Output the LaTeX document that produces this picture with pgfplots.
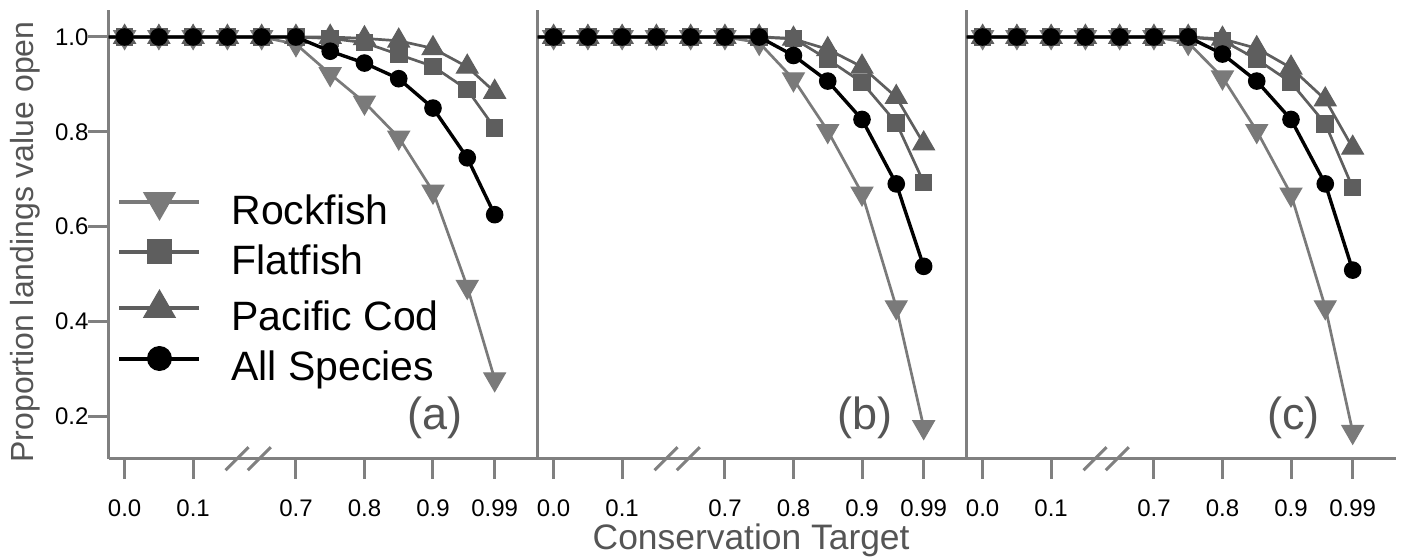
\documentclass[border=0pt]{standalone}
\usepackage{pgfplots}
\pgfplotsset{compat=1.18}
\usepackage{fontspec}
\setmainfont{Liberation Sans}

\definecolor{rockc}{HTML}{7A7A7A}
\definecolor{flatc}{HTML}{5E5E5E}
\definecolor{codc}{HTML}{5E5E5E}
\definecolor{axc}{HTML}{808080}
\definecolor{labc}{HTML}{555555}

\pgfplotsset{
  panel/.style={
    scale only axis, width=214.5pt, height=224.35pt,
    anchor=south west,
    xmin=-0.47, xmax=12.05, ymin=0.11, ymax=1.057,
    axis x line=bottom, axis y line=left,
    axis line style={axc, line width=1.5pt, -},
    xtick={0,2,5,7,9,10.8},
    xticklabels={0.0,0.1,0.7,0.8,0.9,0.99},
    tick align=outside,
    major tick length=10pt,
    every tick/.style={axc, line width=1.5pt},
    tick label style={font=\fontsize{12}{14}\selectfont, black},
    xticklabel style={yshift=-7pt},
    yticklabel style={xshift=3.5pt},
    clip mode=individual,
    legend image code/.code={
      \draw[##1, line width=2pt, mark indices={2},
        every mark/.append style={scale=1.45}]
        plot coordinates {(0pt,4.5pt) (20pt,4.5pt) (40pt,4.5pt)};
      \path[draw=none] (0pt,4.5pt) -- (54pt,4.5pt);
    },
  },
  rock/.style={rockc, line width=1.35pt, mark=triangle*, mark size=6.2pt,
    mark options={rotate=180, fill=rockc, draw=rockc, line width=0.6pt},
    mark indices={1,...,12}},
  flat/.style={flatc, line width=1.35pt, mark=square*, mark size=4.1pt,
    mark options={fill=flatc, draw=flatc, line width=0.6pt},
    mark indices={1,...,12}},
  cod/.style={codc, line width=1.35pt, mark=triangle*, mark size=6.2pt,
    mark options={fill=codc, draw=codc, line width=0.6pt},
    mark indices={1,...,12}},
  allsp/.style={black, line width=1.7pt, mark=*, mark size=4.1pt,
    mark options={fill=black, draw=black, line width=0.6pt},
    mark indices={1,...,12}},
}

\newcommand{\brk}{%
  \draw[axc, line width=1.5pt] ([shift={(-5.75pt,-5.75pt)}]axis cs:3.28,0.11) -- ++(11.5pt,11.5pt);
  \draw[axc, line width=1.5pt] ([shift={(-5.75pt,-5.75pt)}]axis cs:3.93,0.11) -- ++(11.5pt,11.5pt);
}

\begin{document}
\begin{tikzpicture}
\path[use as bounding box] (0,0) rectangle (704pt,278.5pt);

% panel (a)
\begin{axis}[panel, at={(54.25pt,49.15pt)},
    ytick={0.2,0.4,0.6,0.8,1.0},
    yticklabels={0.2,0.4,0.6,0.8,1.0},
    ylabel={Proportion landings value open},
    ylabel style={at={(axis description cs:-0.175,0.483)}, anchor=base,
      font=\fontsize{16}{19}\selectfont, labc},
    legend style={at={(axis description cs:0.02,0.599)}, anchor=north west,
      draw=none, fill=none, inner sep=0pt, row sep=4.5pt, column sep=0pt,
      font=\fontsize{20.5}{24}\selectfont, cells={anchor=west}},
  ]
\addplot[rock] coordinates {(-1,1) (0,1) (1,1) (2,1) (3,1) (4,1) (5,0.985) (6,0.922) (7,0.862) (8,0.788) (9,0.674) (10,0.473) (10.8,0.278)};
\addplot[flat] coordinates {(-1,1) (0,1) (1,1) (2,1) (3,1) (4,1) (5,1) (6,0.997) (7,0.988) (8,0.963) (9,0.938) (10,0.889) (10.8,0.808)};
\addplot[cod] coordinates {(-1,1) (0,1) (1,1) (2,1) (3,1) (4,1) (5,1) (6,1) (7,0.997) (8,0.992) (9,0.976) (10,0.937) (10.8,0.884)};
\addplot[allsp] coordinates {(-1,1) (0,1) (1,1) (2,1) (3,1) (4,1) (5,1) (6,0.970) (7,0.945) (8,0.912) (9,0.850) (10,0.745) (10.8,0.625)};
\legend{Rockfish, Flatfish, Pacific Cod, All Species}
\node[labc, font=\fontsize{22.5}{26}\selectfont] at (axis cs:9.07,0.196) {(a)};
\brk
\end{axis}

% panel (b)
\begin{axis}[panel, at={(268.75pt,49.15pt)}, ytick=\empty,
    xlabel={Conservation Target},
    xlabel style={at={(axis description cs:0.498,0)}, anchor=base,
      yshift=-45.6pt, font=\fontsize{17.7}{21}\selectfont, labc},
  ]
\addplot[rock] coordinates {(-1,1) (0,1) (1,1) (2,1) (3,1) (4,1) (5,1) (6,0.988) (7,0.911) (8,0.802) (9,0.670) (10,0.430) (10.8,0.177)};
\addplot[flat] coordinates {(-1,1) (0,1) (1,1) (2,1) (3,1) (4,1) (5,1) (6,1) (7,0.997) (8,0.953) (9,0.904) (10,0.819) (10.8,0.693)};
\addplot[cod] coordinates {(-1,1) (0,1) (1,1) (2,1) (3,1) (4,1) (5,1) (6,1) (7,0.996) (8,0.974) (9,0.937) (10,0.873) (10.8,0.775)};
\addplot[allsp] coordinates {(-1,1) (0,1) (1,1) (2,1) (3,1) (4,1) (5,1) (6,1) (7,0.961) (8,0.907) (9,0.826) (10,0.690) (10.8,0.516)};
\node[labc, font=\fontsize{22.5}{26}\selectfont] at (axis cs:9.08,0.196) {(b)};
\brk
\end{axis}

% panel (c)
\begin{axis}[panel, at={(483.25pt,49.15pt)}, ytick=\empty]
\addplot[rock] coordinates {(-1,1) (0,1) (1,1) (2,1) (3,1) (4,1) (5,1) (6,0.988) (7,0.915) (8,0.802) (9,0.668) (10,0.430) (10.8,0.167)};
\addplot[flat] coordinates {(-1,1) (0,1) (1,1) (2,1) (3,1) (4,1) (5,1) (6,1) (7,0.993) (8,0.953) (9,0.904) (10,0.817) (10.8,0.682)};
\addplot[cod] coordinates {(-1,1) (0,1) (1,1) (2,1) (3,1) (4,1) (5,1) (6,1) (7,0.996) (8,0.976) (9,0.935) (10,0.868) (10.8,0.766)};
\addplot[allsp] coordinates {(-1,1) (0,1) (1,1) (2,1) (3,1) (4,1) (5,1) (6,1) (7,0.964) (8,0.907) (9,0.826) (10,0.690) (10.8,0.508)};
\node[labc, font=\fontsize{22.5}{26}\selectfont] at (axis cs:9.08,0.196) {(c)};
\brk
\end{axis}
\end{tikzpicture}
\end{document}
